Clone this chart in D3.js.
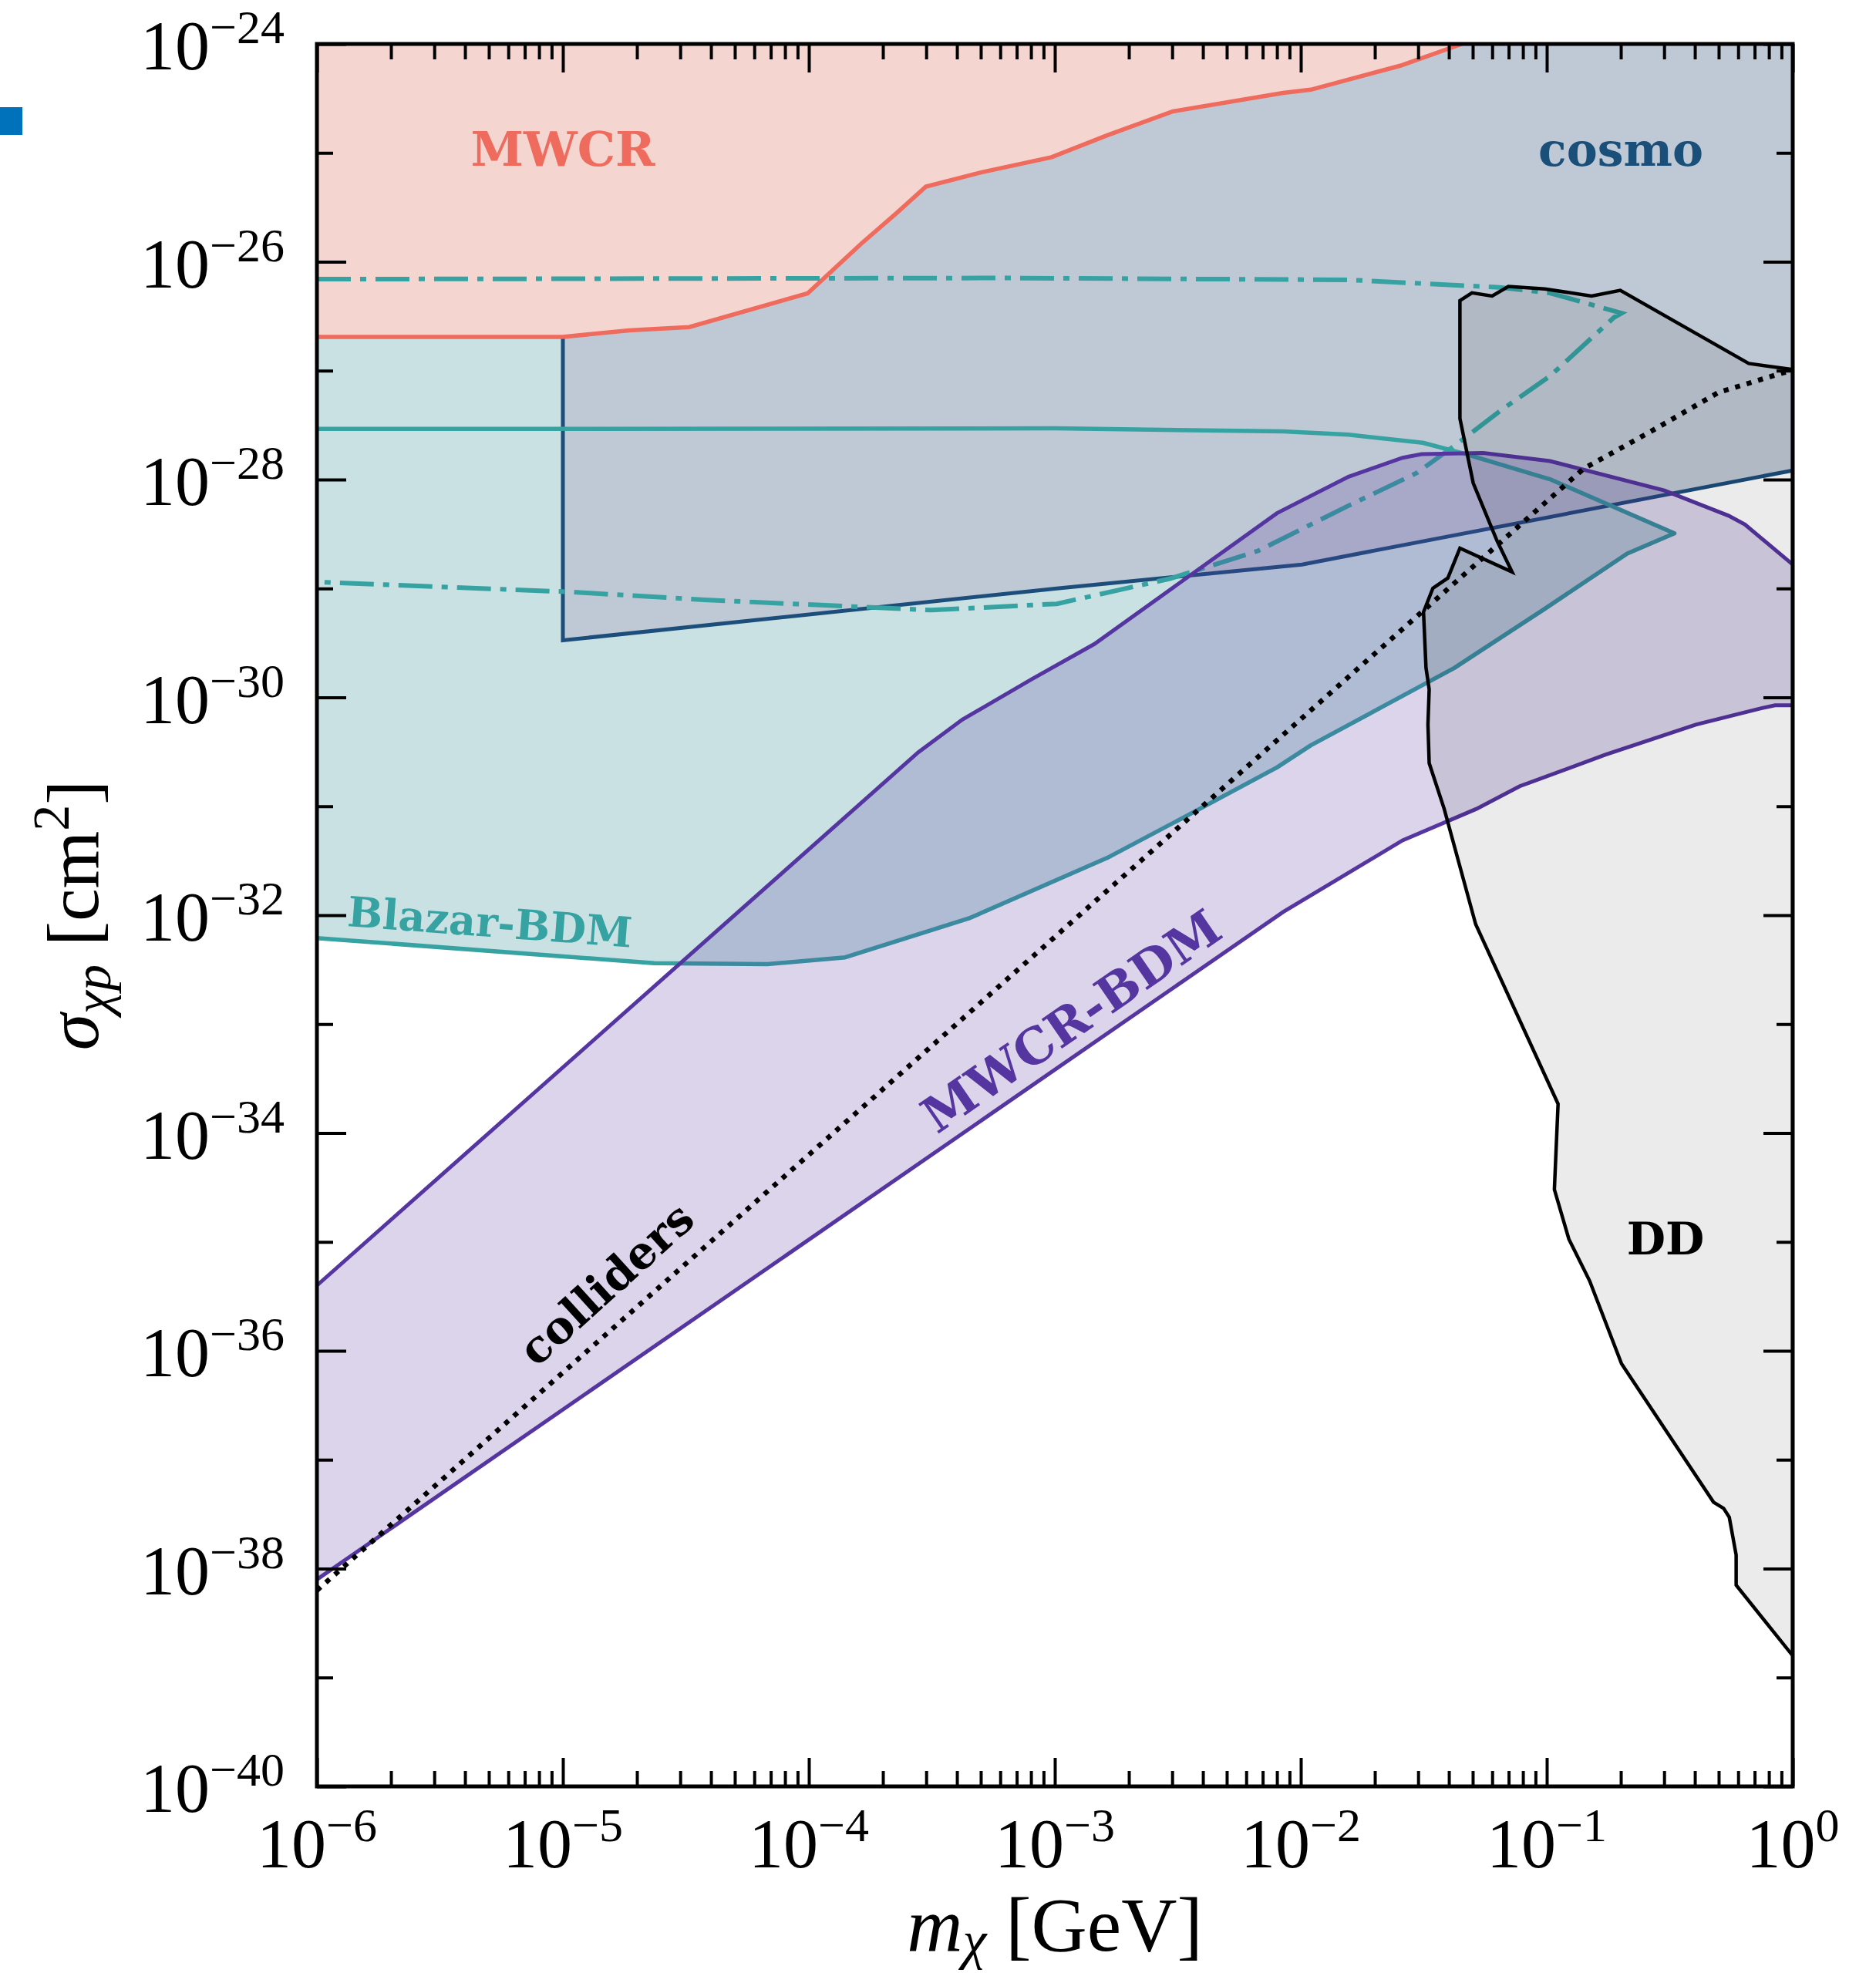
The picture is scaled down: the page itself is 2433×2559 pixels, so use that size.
<!DOCTYPE html>
<html>
<head>
<meta charset="utf-8">
<script src="https://cdn.jsdelivr.net/npm/d3@7"></script>
<style>
  html, body { margin: 0; padding: 0; background: #fff; }
</style>
</head>
<body>
<div id="chart"></div>
<script>
// every curve is a list of [log10 m_chi (GeV), log10 sigma_chi_p (cm^2)]

// MWCR upper bound (excluded above)
const mwcrEdge = [
  [-6, -26.69], [-5.0, -26.69], [-4.73, -26.63], [-4.486, -26.60], [-4.005, -26.29],
  [-3.785, -25.83], [-3.647, -25.56], [-3.524, -25.31], [-3.30, -25.18], [-3.013, -25.04],
  [-2.788, -24.84], [-2.522, -24.62], [-2.072, -24.45], [-1.959, -24.42], [-1.596, -24.20],
  [-1.345, -24.0]
];

// cosmology bound, starts at m = 1e-5
const cosmoEdge = [
  [-5, -24], [-5, -29.476], [-2.992, -29.0], [-1.995, -28.78], [0, -27.916]
];

// Blazar-BDM: lower floor and upper ceiling (solid)
const blazarLower = [
  [-6, -32.21], [-4.629, -32.44], [-4.169, -32.45], [-3.852, -32.387], [-3.35, -32.03],
  [-2.788, -31.475], [-2.43, -31.047], [-2.097, -30.643], [-1.959, -30.44], [-1.376, -29.73],
  [-1.008, -29.187], [-0.673, -28.679], [-0.481, -28.494]
];
const blazarUpper = [
  [-6, -27.535], [-5, -27.535], [-3, -27.53], [-2.072, -27.558], [-1.806, -27.588],
  [-1.504, -27.662], [-1.33, -27.766], [-0.987, -27.997], [-0.481, -28.494]
];
// Blazar-BDM second scenario (dash-dot contour)
const blazarAlt = [
  [-6, -26.16], [-3.197, -26.149], [-1.806, -26.166], [-1.192, -26.235], [-0.987, -26.287],
  [-0.696, -26.472], [-0.726, -26.51], [-0.987, -27.05], [-1.192, -27.373], [-1.366, -27.674],
  [-1.529, -27.94], [-1.806, -28.24], [-2.174, -28.655], [-2.532, -28.91], [-2.992, -29.141],
  [-3.504, -29.199], [-4.425, -29.104], [-4.987, -29.03], [-6, -28.94]
];

// MWCR-BDM band
const bdmUpper = [
  [-6, -35.40], [-3.555, -30.504], [-3.376, -30.204], [-3.095, -29.834], [-2.839, -29.51],
  [-2.097, -28.309], [-1.806, -27.974], [-1.586, -27.80], [-1.509, -27.766], [-1.258, -27.755],
  [-0.987, -27.83], [-0.522, -28.10], [-0.261, -28.332], [-0.194, -28.413], [0, -28.78]
];
const bdmLower = [
  [-6, -38.10], [-2.072, -31.971], [-1.586, -31.313], [-1.286, -31.024], [-1.110, -30.816],
  [-0.762, -30.527], [-0.394, -30.25], [-0.128, -30.10], [-0.072, -30.073], [0, -30.073]
];

// collider bound (dotted)
const colliders = [
  [-6, -38.2], [-0.85, -27.9], [-0.578, -27.56], [-0.302, -27.2], [-0.04, -27.02], [0, -27.0]
];

// direct detection excluded region (closed contour)
const ddEdge = [
  [-1.353, -26.357], [-1.304, -26.286], [-1.222, -26.314], [-1.156, -26.227], [-1.008, -26.250],
  [-0.818, -26.314], [-0.701, -26.262], [-0.179, -26.934], [0, -26.99], [0, -38.80],
  [-0.230, -38.152], [-0.230, -37.875], [-0.258, -37.528], [-0.281, -37.447], [-0.322, -37.39],
  [-0.696, -36.119], [-0.826, -35.356], [-0.910, -34.975], [-0.969, -34.519], [-0.954, -33.733],
  [-1.289, -32.083], [-1.417, -31.024], [-1.478, -30.604], [-1.483, -30.25], [-1.478, -29.927],
  [-1.491, -29.727], [-1.501, -29.216], [-1.463, -28.998], [-1.402, -28.904], [-1.353, -28.630],
  [-1.141, -28.848], [-1.202, -28.563], [-1.299, -28.032], [-1.353, -27.439]
];

// axis ticks (decade exponents)
const xMajor = d3.range(-6, 1);
const yMajor = d3.range(-40, -23, 2);
const yMinor = d3.range(-39, -24, 2);
const xMinor = d3.range(-6, 0).flatMap(e => d3.range(2, 10).map(k => k * 10 ** e));

const SERIF = "'Liberation Serif', 'Times New Roman', serif";
const BOLD = "'DejaVu Serif', serif";

const width = 2433, height = 2559;
const plot = { left: 411, right: 2325, top: 57, bottom: 2317 };

const x = d3.scaleLog().domain([1e-6, 1]).range([plot.left, plot.right]);
const y = d3.scaleLog().domain([1e-40, 1e-24]).range([plot.bottom, plot.top]);

const svg = d3.select("#chart").append("svg")
  .attr("width", width)
  .attr("height", height);

svg.append("defs").append("clipPath").attr("id", "clip")
  .append("rect")
  .attr("x", plot.left).attr("y", plot.top)
  .attr("width", plot.right - plot.left).attr("height", plot.bottom - plot.top);

const line = d3.line().x(d => x(10 ** d[0])).y(d => y(10 ** d[1]));
const g = svg.append("g").attr("clip-path", "url(#clip)");

// Blazar-BDM fill: floor up to ceiling, up to the top left of 1e-5
const blazarFill = blazarLower
  .concat(blazarUpper.slice().reverse().filter(d => d[0] >= -5))
  .concat([[-5, -24], [-6, -24]]);
g.append("path").attr("d", line(blazarFill) + "Z").attr("fill", "#c9e1e2");

// cosmo
g.append("path").attr("d", line(cosmoEdge.concat([[0, -24]])) + "Z").attr("fill", "#bfc9d5");
g.append("path").attr("d", line(cosmoEdge))
  .attr("fill", "none").attr("stroke", "#1d4e7b").attr("stroke-width", 5);

// MWCR
g.append("path").attr("d", line(mwcrEdge.concat([[-6, -24]])) + "Z").attr("fill", "#f4d5d0");
g.append("path").attr("d", line(mwcrEdge))
  .attr("fill", "none").attr("stroke", "#ee6b5d").attr("stroke-width", 5.5);

// Blazar-BDM outlines
g.append("path").attr("d", line(blazarLower.concat(blazarUpper.slice().reverse())))
  .attr("fill", "none").attr("stroke", "#36a2a2").attr("stroke-width", 5.5)
  .attr("stroke-linejoin", "round");
g.append("path").attr("d", line(blazarAlt))
  .attr("fill", "none").attr("stroke", "#36a2a2").attr("stroke-width", 6)
  .attr("stroke-dasharray", "44,12,8,12");

// MWCR-BDM
g.append("path").attr("d", line(bdmUpper.concat(bdmLower.slice().reverse())) + "Z")
  .attr("fill", "rgba(86,50,155,0.21)");
[bdmUpper, bdmLower].forEach(c => {
  g.append("path").attr("d", line(c))
    .attr("fill", "none").attr("stroke", "#5535a0").attr("stroke-width", 5);
});

// direct detection
g.append("path").attr("d", line(ddEdge) + "Z")
  .attr("fill", "rgba(0,0,0,0.08)").attr("stroke", "#000").attr("stroke-width", 4.5)
  .attr("stroke-linejoin", "miter");

// colliders
g.append("path").attr("d", line(colliders))
  .attr("fill", "none").attr("stroke", "#000").attr("stroke-width", 6.5)
  .attr("stroke-dasharray", "6.5,9");

// region labels
const annotations = [
  { text: "MWCR", at: [-5.0, -25.12], angle: 0, color: "#ee6b5d", size: 62 },
  { text: "cosmo", at: [-0.699, -25.12], angle: 0, color: "#1a4f7a", size: 60 },
  { text: "Blazar-BDM", at: [-5.301, -32.198], angle: 4.3, color: "#36a2a2", size: 54 },
  { text: "MWCR-BDM", at: [-2.893, -33.104], angle: -34.6, color: "#5535a0", size: 64 },
  { text: "colliders", at: [-4.781, -35.49], angle: -42.2, color: "#000", size: 58 },
  { text: "DD", at: [-0.517, -35.115], angle: 0, color: "#000", size: 58 }
];
svg.append("g").selectAll("text").data(annotations).join("text")
  .attr("transform", d => `translate(${x(10 ** d.at[0])},${y(10 ** d.at[1])}) rotate(${d.angle})`)
  .attr("text-anchor", "middle")
  .attr("font-family", BOLD).attr("font-weight", "bold")
  .attr("font-size", d => d.size)
  .attr("fill", d => d.color)
  .text(d => d.text);

// ticks on all four sides, pointing inward
function ticks(axisFn, values, size, transform) {
  const scale = (axisFn === d3.axisBottom || axisFn === d3.axisTop) ? x : y;
  svg.append("g").attr("transform", transform)
    .call(axisFn(scale).tickValues(values).tickSizeInner(-size).tickSizeOuter(0).tickFormat(() => ""))
    .call(s => s.select(".domain").remove())
    .call(s => s.selectAll("line").attr("stroke", "#000").attr("stroke-width", 4));
}
const xMajorV = xMajor.map(e => 10 ** e);
const yMajorV = yMajor.map(e => 10 ** e);
const yMinorV = yMinor.map(e => 10 ** e);
ticks(d3.axisBottom, xMajorV, 37, `translate(0,${plot.bottom})`);
ticks(d3.axisBottom, xMinor, 20, `translate(0,${plot.bottom})`);
ticks(d3.axisTop, xMajorV, 37, `translate(0,${plot.top})`);
ticks(d3.axisTop, xMinor, 20, `translate(0,${plot.top})`);
ticks(d3.axisLeft, yMajorV, 38, `translate(${plot.left},0)`);
ticks(d3.axisLeft, yMinorV, 21, `translate(${plot.left},0)`);
ticks(d3.axisRight, yMajorV, 38, `translate(${plot.right},0)`);
ticks(d3.axisRight, yMinorV, 21, `translate(${plot.right},0)`);

// frame
svg.append("rect")
  .attr("x", plot.left).attr("y", plot.top)
  .attr("width", plot.right - plot.left).attr("height", plot.bottom - plot.top)
  .attr("fill", "none").attr("stroke", "#000").attr("stroke-width", 5);

// tick labels 10^e
function powLabel(sel, e) {
  sel.append("tspan").text("10");
  sel.append("tspan").attr("font-size", 62).attr("dy", -34)
    .text(e < 0 ? "\u2212" + (-e) : String(e));
}
svg.append("g").selectAll("text").data(xMajor).join("text")
  .attr("x", d => x(10 ** d)).attr("y", plot.bottom + 105)
  .attr("text-anchor", "middle")
  .attr("font-family", SERIF).attr("font-size", 90)
  .each(function (d) { powLabel(d3.select(this), d); });
svg.append("g").selectAll("text").data(yMajor).join("text")
  .attr("x", plot.left - 42).attr("y", d => y(10 ** d) + 33)
  .attr("text-anchor", "end")
  .attr("font-family", SERIF).attr("font-size", 90)
  .each(function (d) { powLabel(d3.select(this), d); });

// axis titles
const xt = svg.append("text")
  .attr("x", (plot.left + plot.right) / 2).attr("y", 2530)
  .attr("text-anchor", "middle")
  .attr("font-family", SERIF).attr("font-size", 100);
xt.append("tspan").attr("font-style", "italic").text("m");
xt.append("tspan").attr("font-style", "italic").attr("font-size", 70).attr("dy", 10).text("\u03c7");
xt.append("tspan").attr("dy", -10).text(" [GeV]");

const yt = svg.append("text")
  .attr("transform", `translate(127,${(plot.top + plot.bottom) / 2}) rotate(-90)`)
  .attr("text-anchor", "middle")
  .attr("font-family", SERIF).attr("font-size", 96);
yt.append("tspan").attr("font-style", "italic").text("\u03c3");
yt.append("tspan").attr("font-style", "italic").attr("font-size", 68).attr("dy", 16).text("\u03c7p");
yt.append("tspan").attr("dy", -16).text(" [cm");
yt.append("tspan").attr("font-size", 68).attr("dy", -38).text("2");
yt.append("tspan").attr("dy", 38).text("]");

// stray marker at the left edge of the original figure
svg.append("rect").attr("x", 0).attr("y", 139).attr("width", 29).attr("height", 36).attr("fill", "#0072bc");
</script>
</body>
</html>
